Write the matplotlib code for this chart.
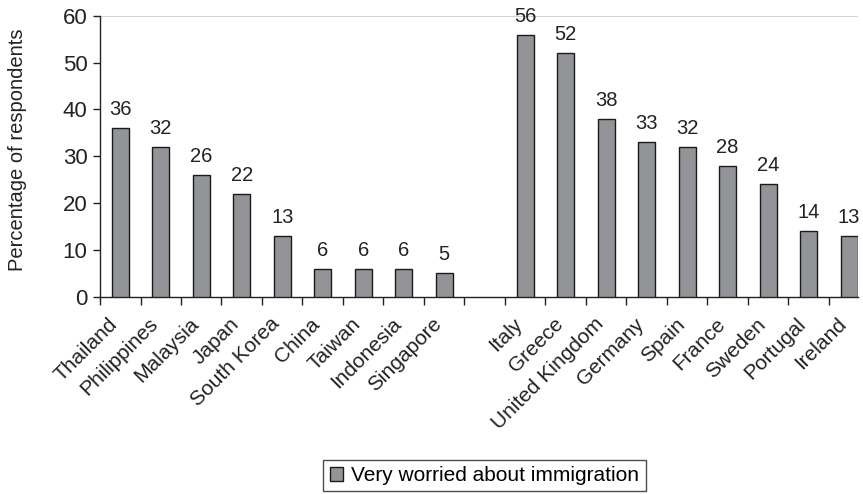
import matplotlib.pyplot as plt
from matplotlib.patches import Patch

plt.rcParams['font.family'] = ['Liberation Sans', 'DejaVu Sans']

# data; "" is the empty slot between the two groups
countries = ["Thailand", "Philippines", "Malaysia", "Japan", "South Korea",
             "China", "Taiwan", "Indonesia", "Singapore", "",
             "Italy", "Greece", "United Kingdom", "Germany", "Spain",
             "France", "Sweden", "Portugal", "Ireland"]
worried = [36, 32, 26, 22, 13, 6, 6, 6, 5, None,
           56, 52, 38, 33, 32, 28, 24, 14, 13]
series_name = "Very worried about immigration"

bar_color = "#939498"
ink = "#222222"

fig = plt.figure(figsize=(8.63, 4.94), dpi=100)
ax = fig.add_axes([0.1159, 0.3995, 0.8783, 0.5685])

pos = [i for i, v in enumerate(worried) if v is not None]
vals = [v for v in worried if v is not None]
ax.bar(pos, vals, width=0.42, color=bar_color, edgecolor="#1a1a1a",
       linewidth=1.0, zorder=3)
for x, v in zip(pos, vals):
    ax.text(x, v + 1.9, str(v), ha="center", va="bottom", fontsize=14.5,
            color=ink)

ax.set_ylim(0, 60)
ax.set_xlim(-0.5, 18.22)
ax.set_yticks(range(0, 61, 10))
ax.tick_params(axis="y", labelsize=16, length=5, width=1,
               direction="out", colors=ink, pad=4)
ax.axhline(60, color="#c8c8c8", linewidth=1.2, zorder=1)

# ticks sit between categories, labels under the bars
ax.set_xticks([i - 0.5 for i in range(len(countries))])
ax.set_xticklabels([])
ax.tick_params(axis="x", length=6, width=1, direction="out", colors=ink)
for i, name in enumerate(countries):
    if name:
        ax.text(i - 0.3, -3.8, name, rotation=45, ha="right", va="top",
                rotation_mode="anchor", fontsize=15, color=ink)

for side in ["top", "right"]:
    ax.spines[side].set_visible(False)
for side in ["left", "bottom"]:
    ax.spines[side].set_color(ink)
    ax.spines[side].set_linewidth(1.0)

ax.set_ylabel("Percentage of respondents", fontsize=14.5, color=ink,
              va="center")
ax.yaxis.set_label_coords(-0.1095, 0.523)

handle = Patch(facecolor=bar_color, edgecolor="#1a1a1a", linewidth=1.0)
fig.legend([handle], [series_name], loc="center", bbox_to_anchor=(0.5614, 0.0374),
           fontsize=15, frameon=True, fancybox=False, edgecolor=ink,
           handlelength=0.65, handleheight=0.65, handletextpad=0.4,
           borderpad=0.3)

fig.savefig("out.png", dpi=100)
